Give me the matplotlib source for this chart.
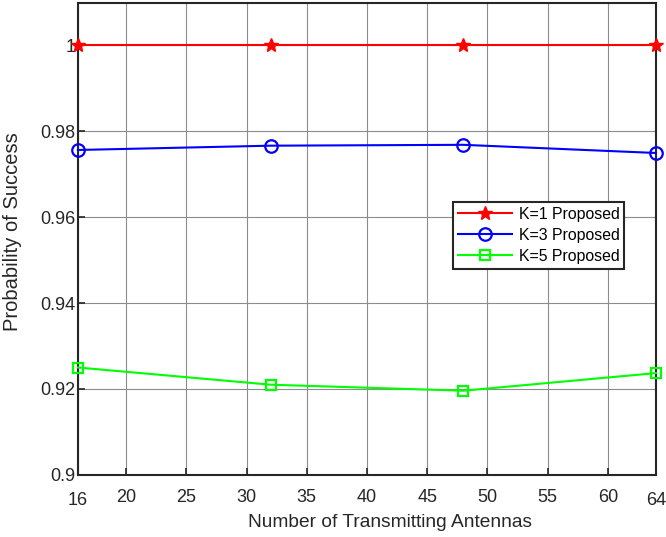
import matplotlib
matplotlib.use('Agg')
import matplotlib.pyplot as plt
import matplotlib.transforms as mtransforms

plt.rcParams['font.family'] = ['Liberation Sans', 'DejaVu Sans']

antennas = [16, 32, 48, 64]
k1 = [1.0, 1.0, 1.0, 1.0]
k3 = [0.9756, 0.9766, 0.9768, 0.9749]
k5 = [0.9250, 0.9210, 0.9196, 0.9237]
xticks = [16, 20, 25, 30, 35, 40, 45, 50, 55, 60, 64]
yticks = [0.9, 0.92, 0.94, 0.96, 0.98, 1.0]
ytick_labels = ['0.9', '0.92', '0.94', '0.96', '0.98', '1']

fig = plt.figure(figsize=(6.66, 5.37), dpi=100)
ax = fig.add_axes([0.117, 0.1155, 0.868, 0.879])

ax.plot(antennas, k1, color='#ff0000', lw=1.5, marker='*', ms=10, clip_on=False, zorder=3, label='K=1 Proposed')
ax.plot(antennas, k3, color='#0000ff', lw=1.5, marker='o', ms=9, mfc='none', mew=1.6, clip_on=False, zorder=3, label='K=3 Proposed')
ax.plot(antennas, k5, color='#00ff00', lw=1.5, marker='s', ms=7.5, mfc='none', mew=1.6, clip_on=False, zorder=3, label='K=5 Proposed')

ax.set_xlim(16, 64)
ax.set_ylim(0.9, 1.0098)
ax.set_xticks(xticks)
ax.set_yticks(yticks)
ax.set_yticklabels(ytick_labels)
ax.tick_params(direction='in', labelsize=13, colors='#262626', width=1.2, length=5)
ax.tick_params(axis='x', pad=10)
ax.tick_params(axis='y', pad=2)
ax.grid(True, color='#8c8c8c', lw=0.8)
for s in ax.spines.values():
    s.set_linewidth(1.5)
    s.set_color('#262626')

# end labels sit a little lower, as in the original
shift = mtransforms.ScaledTranslation(0, -3 / 100, fig.dpi_scale_trans)
xl = ax.get_xticklabels()
for lab in (xl[0], xl[-1]):
    lab.set_transform(lab.get_transform() + shift)

ax.set_xlabel('Number of Transmitting Antennas', fontsize=13.8, color='#262626', labelpad=1)
ax.xaxis.set_label_coords(0.54, -0.082)
ax.set_ylabel('Probability of Success', fontsize=14.5, color='#262626')
ax.yaxis.set_label_coords(-0.097, 0.515)

leg = ax.legend(loc='upper left', bbox_to_anchor=(0.649, 0.578), fontsize=11.4, fancybox=False,
                framealpha=1, edgecolor='#262626', borderpad=0.3, handlelength=3.4,
                labelspacing=0.38, handletextpad=0.45, borderaxespad=0)
leg.get_frame().set_linewidth(1.5)

fig.savefig('out.png', dpi=100)
